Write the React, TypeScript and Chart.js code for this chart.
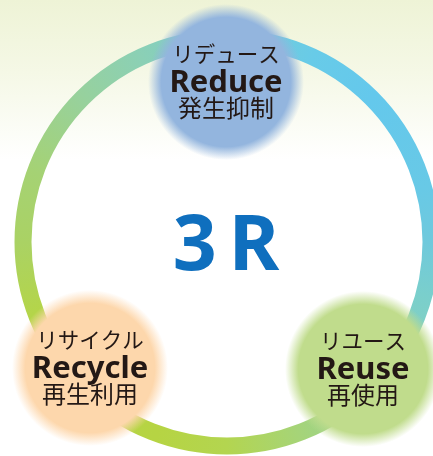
import React, { useEffect, useRef } from "react";
import { Chart, registerables } from "chart.js";

Chart.register(...registerables);

// ---- data ----
const categories = ["Reduce", "Reuse", "Recycle"];
const kanaLabels = ["リデュース", "リユース", "リサイクル"];
const kanjiLabels = ["発生抑制", "再使用", "再生利用"];
const xValues = [-1, 136, -137];
const yValues = [160, -127, -126];
const circleColors = ["#93b5de", "#c0dc8c", "#fdd7ac"];
const centerTitle = "3 R";
const ringRadiusValue = 204;

// ring colours, clockwise from 12 o'clock (degrees)
const ringAngles = [0, 25, 45, 75, 90, 105, 120, 160, 180, 200, 250, 270, 290, 315, 335, 360];
const ringColors = [
  "#78cdd2", "#68cbe8", "#64c8ec", "#68c9e6", "#6fc9dc", "#7acfcc", "#84d0c0",
  "#a6d477", "#b3d550", "#b6d443", "#b4d54a", "#aad264", "#a5d274", "#97d19d",
  "#8bd0b5", "#78cdd2",
];

const CANVAS_W = 433;
const CANVAS_H = 456;
const CIRCLE_R = 78;
const TEXT_COLOR = "#231815";
const TITLE_COLOR = "#0f6fbe";

function rgba(hex: string, a: number) {
  const n = parseInt(hex.slice(1), 16);
  return `rgba(${(n >> 16) & 255},${(n >> 8) & 255},${n & 255},${a})`;
}

const backgroundPlugin = {
  id: "bg",
  beforeDraw(chart: any) {
    const { ctx, width, height } = chart;
    const g = ctx.createLinearGradient(0, 0, 0, 160);
    g.addColorStop(0, "#eef3d6");
    g.addColorStop(0.45, "#f5f8e6");
    g.addColorStop(1, "#ffffff");
    ctx.save();
    ctx.fillStyle = g;
    ctx.fillRect(0, 0, width, height);
    ctx.restore();
  },
};

const ringPlugin = {
  id: "ring",
  beforeDatasetsDraw(chart: any) {
    const { ctx, scales } = chart;
    const cx = scales.x.getPixelForValue(0);
    const cy = scales.y.getPixelForValue(0);
    const r = scales.x.getPixelForValue(ringRadiusValue) - cx;
    const g = ctx.createConicGradient(-Math.PI / 2, cx, cy);
    ringAngles.forEach((a, i) => g.addColorStop(a / 360, ringColors[i]));
    ctx.save();
    ctx.beginPath();
    ctx.arc(cx, cy, r, 0, Math.PI * 2);
    ctx.lineWidth = 17;
    ctx.strokeStyle = g;
    ctx.stroke();
    ctx.restore();

    // soft-edged fills for the three circles
    const meta = chart.getDatasetMeta(0);
    meta.data.forEach((el: any, i: number) => {
      if (!isFinite(el.x) || !isFinite(el.y)) return;
      const color = circleColors[i];
      const gr = ctx.createRadialGradient(el.x, el.y, 0, el.x, el.y, CIRCLE_R);
      gr.addColorStop(0, color);
      gr.addColorStop(0.83, color);
      gr.addColorStop(1, rgba(color, 0));
      el.options.backgroundColor = gr;
    });
  },
};

const labelPlugin = {
  id: "labels",
  afterDatasetsDraw(chart: any) {
    const { ctx, scales } = chart;
    const meta = chart.getDatasetMeta(0);
    ctx.save();
    ctx.fillStyle = TEXT_COLOR;
    ctx.textAlign = "center";
    meta.data.forEach((el: any, i: number) => {
      const x = el.x;
      const y = el.y;
      ctx.textBaseline = "middle";
      ctx.font = '21.5px "Noto Sans CJK JP"';
      ctx.fillText(kanaLabels[i], x, y - 28);
      ctx.textBaseline = "alphabetic";
      ctx.font = 'bold 31px "Noto Sans", "Noto Sans CJK JP"';
      ctx.fillText(categories[i], x, y + 10);
      ctx.textBaseline = "middle";
      ctx.font = '24px "Noto Sans CJK JP"';
      ctx.fillText(kanjiLabels[i], x, y + 25.5);
    });
    const cx = scales.x.getPixelForValue(0);
    const cy = scales.y.getPixelForValue(0);
    ctx.fillStyle = TITLE_COLOR;
    ctx.font = 'bold 77px "Noto Sans"';
    ctx.textBaseline = "alphabetic";
    (ctx as any).letterSpacing = "-4px";
    ctx.fillText(centerTitle, cx - 3, cy + 28);
    ctx.restore();
  },
};

export default function App() {
  const ref = useRef<HTMLCanvasElement | null>(null);
  useEffect(() => {
    if (!ref.current) return;
    const chart = new Chart(ref.current, {
      type: "bubble",
      data: {
        labels: categories,
        datasets: [
          {
            data: xValues.map((x, i) => ({ x, y: yValues[i] })),
            radius: CIRCLE_R,
            hoverRadius: 0,
            borderWidth: 0,
            backgroundColor: circleColors,
          } as any,
        ],
      },
      options: {
        responsive: false,
        animation: false,
        events: [],
        layout: { padding: 0, autoPadding: false },
        scales: {
          x: { type: "linear", min: -227, max: 206, display: false },
          y: { type: "linear", min: -214, max: 242, display: false },
        },
        plugins: { legend: { display: false }, tooltip: { enabled: false } },
      } as any,
      plugins: [backgroundPlugin, ringPlugin, labelPlugin],
    });
    return () => chart.destroy();
  }, []);
  return (
    <div style={{ position: "fixed", left: 0, top: 0, width: CANVAS_W, height: CANVAS_H, overflow: "hidden", background: "#fff" }}>
      <canvas ref={ref} width={CANVAS_W} height={CANVAS_H} style={{ display: "block" }} />
    </div>
  );
}
